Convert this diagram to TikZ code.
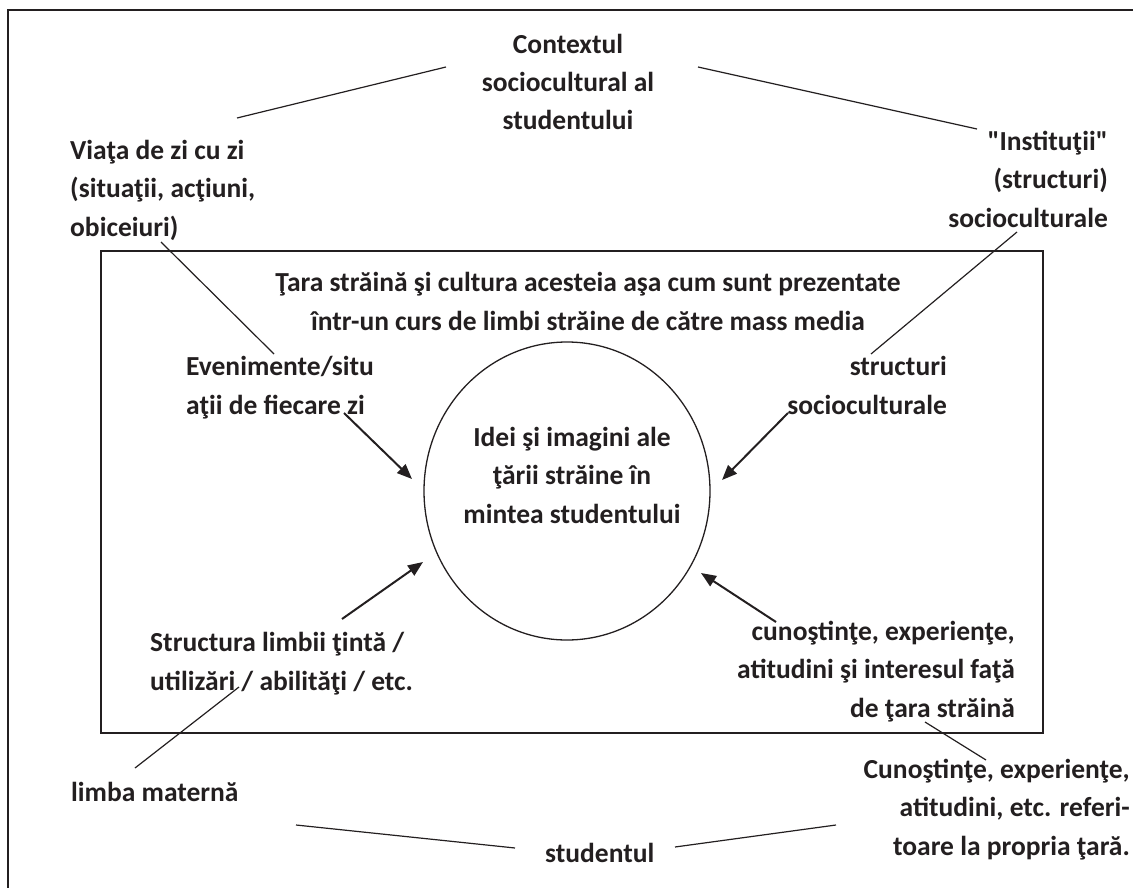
\documentclass[tikz,border=0pt]{standalone}
\usepackage{fontspec}
\setmainfont{Carlito}[Ligatures=TeXOff]
\usetikzlibrary{arrows.meta,shapes.geometric}
\definecolor{ink}{RGB}{35,31,32}
\begin{document}
\begin{tikzpicture}[x=1pt,y=-1pt,
  lbl/.style={font=\fontsize{27.5}{38.3}\selectfont\bfseries, text=ink, inner sep=0pt},
  link/.style={draw=ink, line width=1.2pt},
  feed/.style={draw=ink, line width=2pt, -{Triangle[length=15pt,width=12pt]}},
  frame/.style={draw=ink, line width=1.5pt}]
\useasboundingbox (0,0) rectangle (1133,888);
\begin{scope}
  \clip (0,0) rectangle (1133,888);
  \draw[frame] (8,10) rectangle (1160,910);
\end{scope}
% inner box: the country as presented in the course
\draw[frame] (101,251) rectangle (1043,733);
% the student's mind
\node[draw=ink, line width=1.3pt, ellipse, minimum width=286pt, minimum height=298pt, inner sep=0pt] (mind) at (567,491) {};

% labels (base anchor = baseline of the last line)
\node[lbl, align=center, anchor=base] (ctx) at (568,130) {Contextul\\sociocultural al\\studentului};
\node[lbl, align=left, anchor=base west] (daily) at (70,236) {Viaţa de zi cu zi\\(situaţii, acţiuni,\\obiceiuri)};
\node[lbl, align=right, anchor=base east] (inst) at (1108,227) {"Instituţii"\\(structuri)\\socioculturale};
\node[lbl, align=center, anchor=base] (tara) at (588,330) {Ţara străină şi cultura acesteia aşa cum sunt prezentate\\într-un curs de limbi străine de către mass media};
\node[lbl, align=left, anchor=base west] (even) at (186,414) {Evenimente/situ\\aţii de fiecare zi};
\node[lbl, align=right, anchor=base east] (struct) at (947,414) {structuri\\socioculturale};
\node[lbl, align=center, anchor=base] (ideas) at (572,523) {Idei şi imagini ale\\ţării străine în\\mintea studentului};
\node[lbl, align=left, anchor=base west] (target) at (150,690) {Structura limbii ţintă /\\utilizări / abilităţi / etc.};
\node[lbl, align=right, anchor=base east] (know) at (1015,717) {cunoştinţe, experienţe,\\atitudini şi interesul faţă\\de ţara străină};
\node[lbl, anchor=base west] (mother) at (71,801) {limba maternă};
\node[lbl, align=right, anchor=base east] (own) at (1130,855) {Cunoştinţe, experienţe,\\atitudini, etc. referi-\\toare la propria ţară.};
\node[lbl, anchor=base west] (stud) at (545,862) {studentul};

% connector ends
\coordinate (ctxL) at (446,67);   \coordinate (dailyT) at (237,118);
\coordinate (ctxR) at (698,67);   \coordinate (instT) at (977,129);
\coordinate (dailyB) at (161,242); \coordinate (evenT) at (274,354);
\coordinate (instB) at (1017,232); \coordinate (structT) at (871,354);
\coordinate (evenB) at (344,413); \coordinate (mindNW) at (412,479);
\coordinate (structB) at (788,413); \coordinate (mindNE) at (722,480);
\coordinate (targetT) at (342,619); \coordinate (mindSW) at (423,562);
\coordinate (knowT) at (776,622); \coordinate (mindSE) at (701,573);
\coordinate (targetB) at (239,687); \coordinate (motherT) at (135,768);
\coordinate (knowB) at (925,722); \coordinate (ownT) at (986,760);
\coordinate (studL) at (515,848); \coordinate (motherR) at (296,825);
\coordinate (studR) at (675,847); \coordinate (ownL) at (836,825);

\draw[link] (ctxL) -- (dailyT);
\draw[link] (ctxR) -- (instT);
\draw[link] (dailyB) -- (evenT);
\draw[link] (instB) -- (structT);
\draw[link] (targetB) -- (motherT);
\draw[link] (knowB) -- (ownT);
\draw[link] (studL) -- (motherR);
\draw[link] (studR) -- (ownL);

\draw[feed] (evenB) -- (mindNW);
\draw[feed] (structB) -- (mindNE);
\draw[feed] (targetT) -- (mindSW);
\draw[feed] (knowT) -- (mindSE);
\end{tikzpicture}
\end{document}
